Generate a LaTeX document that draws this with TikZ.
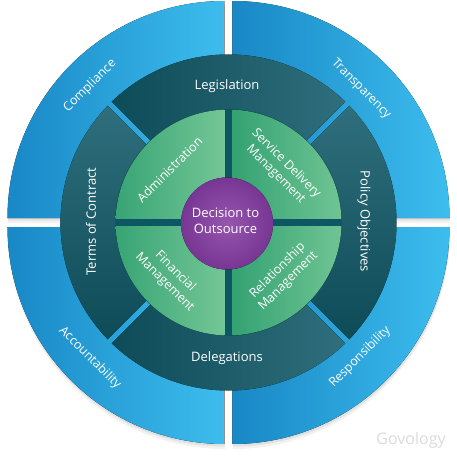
\documentclass[tikz,border=0pt]{standalone}
\usepackage{fontspec}
\setmainfont{Open Sans}
\definecolor{blueA}{HTML}{1888C6}
\definecolor{blueB}{HTML}{3DBDEE}
\definecolor{tealA}{HTML}{05434F}
\definecolor{tealB}{HTML}{377684}
\definecolor{greenA}{HTML}{34A272}
\definecolor{greenB}{HTML}{74C696}
\definecolor{purpA}{HTML}{9656AE}
\definecolor{purpB}{HTML}{773693}
\definecolor{gapteal}{HTML}{0D5664}
\tikzset{
  lbl/.style={text=white, align=center, inner sep=0pt},
  big/.style={lbl, font=\fontsize{13}{16}\selectfont},
  mid/.style={lbl, font=\fontsize{12.5}{15}\selectfont},
}
\begin{document}
\begin{tikzpicture}[x=1pt,y=1pt]
\useasboundingbox (-228.5,-235.5) rectangle (227.5,222.5);
% shadows of outer quadrants
\foreach \sx/\sy/\a/\b in {-1/1/180/90, 1/1/90/0, -1/-1/180/270, 1/-1/270/360} {
  \fill[black, opacity=0.05, shift={(0.5,-5)}] ({\sx*4},{\sy*4.5}) -- ++(\a:217) arc[start angle=\a, end angle=\b, radius=217] -- cycle;
  \fill[black, opacity=0.07, shift={(0.5,-2.5)}] ({\sx*4},{\sy*4.5}) -- ++(\a:217) arc[start angle=\a, end angle=\b, radius=217] -- cycle;
}
% outer blue quadrants
\foreach \sx/\sy/\a/\b in {-1/1/180/90, 1/1/90/0, -1/-1/180/270, 1/-1/270/360} {
  \fill[left color=blueA, right color=blueB] ({\sx*4},{\sy*4.5}) -- ++(\a:217) arc[start angle=\a, end angle=\b, radius=217] -- cycle;
}
% dark ring segments
\begin{scope}
  \clip (0,0) circle[radius=168];
  \fill[left color=tealA, right color=tealB, shift={(90:4.2)}] (0,0) -- (45:240) -- (135:240) -- cycle;
  \fill[top color=tealB, bottom color=tealA, shift={(0:4.2)}] (0,0) -- (45:240) -- (-45:240) -- cycle;
  \fill[left color=tealA, right color=tealB, shift={(270:4.2)}] (0,0) -- (225:240) -- (315:240) -- cycle;
  \fill[top color=tealB, bottom color=tealA, shift={(180:4.2)}] (0,0) -- (135:240) -- (225:240) -- cycle;
\end{scope}
% green quadrants
\fill[gapteal] (0,0) circle[radius=113.5];
\begin{scope}
  \clip (0,0) circle[radius=113];
  \fill[left color=greenA, right color=greenB] (-120,3.8) rectangle (-3.8,120);
  \fill[left color=greenA, right color=greenB] (3.8,3.8) rectangle (120,120);
  \fill[left color=greenA, right color=greenB] (-120,-3.8) rectangle (-3.8,-120);
  \fill[left color=greenA, right color=greenB] (3.8,-3.8) rectangle (120,-120);
\end{scope}
% centre
\fill[inner color=purpA, outer color=purpB] (-1.5,-1) circle[radius=46];
\node[big] (dec) at (-3,1.5) {Decision to\\Outsource};
% green labels
\node[mid, rotate=45] (adm) at (-59,53) {Administration};
\node[mid, rotate=-45] (sdm) at (52.5,53.5) {Service Delivery\\Management};
\node[mid, rotate=-45] (fin) at (-58.5,-54.5) {Financial\\Management};
\node[mid, rotate=45] (rel) at (54.5,-53.5) {Relationship\\Management};
% dark ring labels
\node[big] (leg) at (-1.5,136.5) {Legislation};
\node[big, rotate=-90] (pol) at (135.5,1) {Policy Objectives};
\node[big] (del) at (-1.5,-135.5) {Delegations};
\node[big, rotate=90] (ter) at (-137.5,1) {Terms of Contract};
% outer labels
\node[mid, rotate=45] (com) at (-138.5,136.5) {Compliance};
\node[mid, rotate=-45] (tra) at (132.5,133.5) {Transparency};
\node[mid, rotate=-45] (acc) at (-138.5,-135.5) {Accountability};
\node[mid, rotate=45] (res) at (131.5,-134.5) {Responsibility};
% watermark
\node[text=black!14, inner sep=0pt, font=\fontsize{16}{18}\selectfont] (gov) at (182.5,-217.5) {Govology};
\end{tikzpicture}
\end{document}
